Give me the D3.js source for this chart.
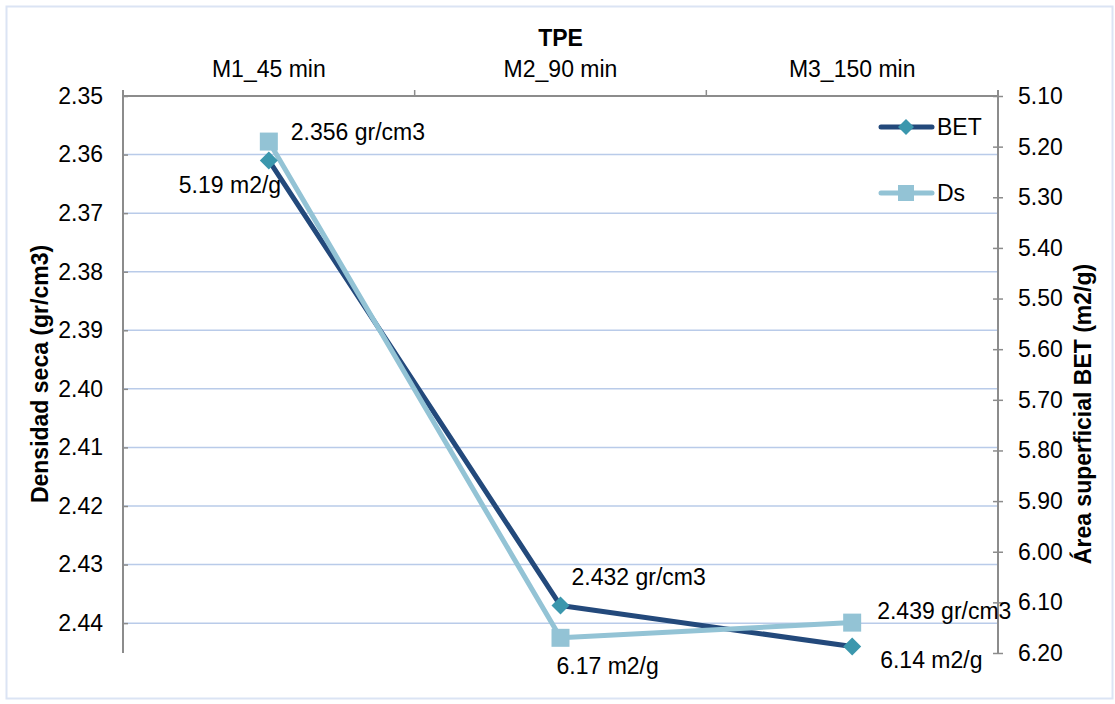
<!DOCTYPE html>
<html><head><meta charset="utf-8">
<script src="https://cdn.jsdelivr.net/npm/d3@7"></script>
<style>body{margin:0;background:#fff}svg{font-family:"Liberation Sans",Arial,sans-serif}</style>
</head><body>
<svg id="c" width="1115" height="704"></svg>
<script>
const categories = ["M1_45 min", "M2_90 min", "M3_150 min"];
const betValues = [2.356, 2.432, 2.439];   // dark series, left axis (gr/cm3)
const dsValues = [5.19, 6.17, 6.14];       // light series, right axis (m2/g)
const leftTickValues = [2.345, 2.355, 2.365, 2.375, 2.385, 2.395, 2.405, 2.415, 2.425, 2.435];
const leftTickLabels = ["2.35", "2.36", "2.37", "2.38", "2.39", "2.40", "2.41", "2.42", "2.43", "2.44"];
const rightTickValues = [5.1, 5.2, 5.3, 5.4, 5.5, 5.6, 5.7, 5.8, 5.9, 6.0, 6.1, 6.2];
const seriesNames = ["BET", "Ds"];

const FS = 23;
const svg = d3.select("#c");
const L = 123, R = 998, T = 96, B = 653;
const darkLine = "#23497b", darkMarker = "#3b97ad", light = "#93c3d5";

svg.append("rect").attr("x", 6.5).attr("y", 6.5).attr("width", 1106).attr("height", 692)
  .attr("fill", "#fff").attr("stroke", "#dbe4f4").attr("stroke-width", 2);

const x = d3.scaleBand().domain(categories).range([L, R]);
const yL = d3.scaleLinear().domain([2.345, 2.4401]).range([T, B]);
const yR = d3.scaleLinear().domain([5.1, 6.2]).range([T, B]);

// gridlines
svg.append("g").selectAll("line").data(leftTickValues.slice(1)).join("line")
  .attr("x1", L).attr("x2", R).attr("y1", d => yL(d)).attr("y2", d => yL(d))
  .attr("stroke", "#b9cbe9").attr("stroke-width", 1.5);

// left axis
const gL = svg.append("g").attr("transform", `translate(${L},0)`)
  .call(d3.axisRight(yL).tickValues(leftTickValues).tickFormat((d, i) => leftTickLabels[i]).tickSize(5));
gL.select(".domain").remove();
gL.selectAll(".tick line").attr("stroke", "#8c8c8c").attr("stroke-width", 1.5);
gL.selectAll(".tick text").attr("x", -20).attr("text-anchor", "end")
  .attr("font-size", FS).attr("fill", "#000").attr("font-family", "Liberation Sans, Arial");
svg.append("line").attr("x1", L).attr("x2", L).attr("y1", 90).attr("y2", B)
  .attr("stroke", "#8c8c8c").attr("stroke-width", 2);

// right axis
const gR = svg.append("g").attr("transform", `translate(${R},0)`)
  .call(d3.axisRight(yR).tickValues(rightTickValues).tickFormat(d3.format(".2f")).tickSize(5));
gR.select(".domain").remove();
gR.selectAll(".tick line").attr("x1", -5).attr("stroke", "#8c8c8c").attr("stroke-width", 1.5);
gR.selectAll(".tick text").attr("x", 20).attr("font-size", FS).attr("fill", "#000")
  .attr("font-family", "Liberation Sans, Arial");
svg.append("line").attr("x1", R).attr("x2", R).attr("y1", 90).attr("y2", B)
  .attr("stroke", "#8c8c8c").attr("stroke-width", 2);

// top axis
const gT = svg.append("g").attr("transform", `translate(0,${T})`)
  .call(d3.axisTop(x).tickSize(0));
gT.select(".domain").remove();
gT.selectAll(".tick text").attr("y", -19).attr("font-size", FS).attr("fill", "#000")
  .attr("font-family", "Liberation Sans, Arial");
svg.append("line").attr("x1", L).attr("x2", R).attr("y1", T).attr("y2", T)
  .attr("stroke", "#8c8c8c").attr("stroke-width", 2);
svg.append("g").selectAll("line").data(categories.slice(1)).join("line")
  .attr("x1", d => x(d)).attr("x2", d => x(d)).attr("y1", T - 6).attr("y2", T)
  .attr("stroke", "#8c8c8c").attr("stroke-width", 1.5);

// titles
svg.append("text").attr("x", (L + R) / 2).attr("y", 46).attr("text-anchor", "middle")
  .attr("font-size", FS).attr("font-weight", "bold").text("TPE");
svg.append("text").attr("transform", "translate(48,374) rotate(-90)").attr("text-anchor", "middle")
  .attr("font-size", FS).attr("font-weight", "bold").text("Densidad seca (gr/cm3)");
svg.append("text").attr("transform", "translate(1091,414) rotate(-90)").attr("text-anchor", "middle")
  .attr("font-size", FS).attr("font-weight", "bold").text("Área superficial BET (m2/g)");

const cx = d => x(d) + x.bandwidth() / 2;
const betPts = categories.map((c, i) => [cx(c), yL(betValues[i])]);
const dsPts = categories.map((c, i) => [cx(c), yR(dsValues[i])]);
const line = d3.line();

svg.append("path").attr("d", line(betPts)).attr("fill", "none").attr("stroke", darkLine)
  .attr("stroke-width", 5).attr("stroke-linejoin", "round").attr("stroke-linecap", "round");
svg.append("path").attr("d", line(dsPts)).attr("fill", "none").attr("stroke", light)
  .attr("stroke-width", 5).attr("stroke-linejoin", "round").attr("stroke-linecap", "round");

const diamond = s => `M0,${-s}L${s},0L0,${s}L${-s},0Z`;
svg.append("g").selectAll("path").data(betPts).join("path")
  .attr("transform", d => `translate(${d[0]},${d[1]})`).attr("d", diamond(9)).attr("fill", darkMarker);
svg.append("g").selectAll("rect").data(dsPts).join("rect")
  .attr("x", d => d[0] - 9).attr("y", d => d[1] - 9).attr("width", 18).attr("height", 18).attr("fill", light);

// data labels (gr/cm3 from dark series values, m2/g from light series values)
const grOffsets = [[22, -2, "ds"], [11, -21, "bet"], [25, -4, "ds"]];
const m2Offsets = [[-90, 33, "bet"], [-4, 36, "ds"], [28, 21, "bet"]];
const labels = svg.append("g").attr("font-size", FS).attr("fill", "#000");
categories.forEach((c, i) => {
  const g = grOffsets[i], m = m2Offsets[i];
  const ag = g[2] === "ds" ? dsPts[i] : betPts[i];
  const am = m[2] === "ds" ? dsPts[i] : betPts[i];
  labels.append("text").attr("x", ag[0] + g[0]).attr("y", ag[1] + g[1]).text(d3.format(".3f")(betValues[i]) + " gr/cm3");
  labels.append("text").attr("x", am[0] + m[0]).attr("y", am[1] + m[1]).text(d3.format(".2f")(dsValues[i]) + " m2/g");
});

// legend
const leg = svg.append("g");
[0, 1].forEach(i => {
  const ly = 127 + i * 66;
  leg.append("line").attr("x1", 881).attr("x2", 932).attr("y1", ly).attr("y2", ly)
    .attr("stroke", i === 0 ? darkLine : light).attr("stroke-width", 5).attr("stroke-linecap", "round");
  if (i === 0) leg.append("path").attr("transform", `translate(906,${ly})`).attr("d", diamond(8)).attr("fill", darkMarker);
  else leg.append("rect").attr("x", 898).attr("y", ly - 8).attr("width", 16).attr("height", 16).attr("fill", light);
  leg.append("text").attr("x", 937).attr("y", ly + 8).attr("font-size", FS).text(seriesNames[i]);
});
</script>
</body></html>
